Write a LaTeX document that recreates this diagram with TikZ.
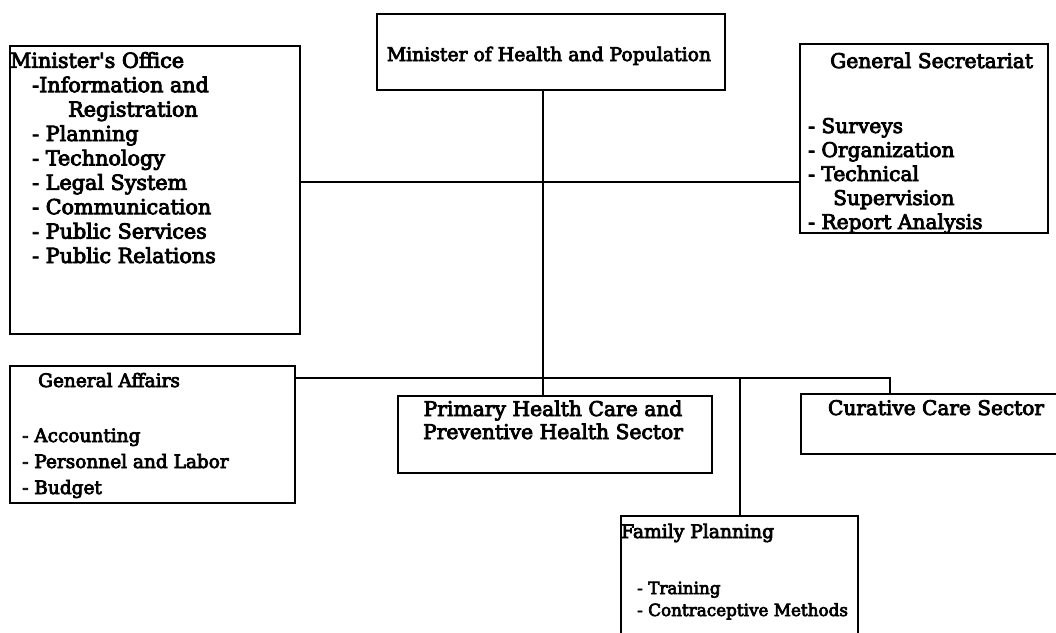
\documentclass[tikz,border=0pt]{standalone}
\usepackage{fontspec}
\newfontfamily\chartfont{DejaVu Serif}[FakeBold=4]
\newcommand{\chartsize}[2]{\chartfont\fontsize{#1}{#2}\selectfont}
\begin{document}
\begin{tikzpicture}[x=1pt,y=-1pt,
  box/.style={draw=black, line width=1.8pt, inner sep=0pt, anchor=north west},
  wire/.style={draw=black, line width=1.8pt},
  txt/.style={inner sep=0pt, align=left, anchor=base west},
  ctxt/.style={inner sep=0pt, align=center, anchor=base}]
\useasboundingbox[fill=white] (0,0) rectangle (1056,632);

% boxes
\node[box, minimum width=348pt, minimum height=76pt]  (minister) at (376,13) {};
\node[box, minimum width=290pt, minimum height=288pt] (office)   at (9,45) {};
\node[box, minimum width=248pt, minimum height=189pt] (secr)     at (799,43) {};
\node[box, minimum width=285pt, minimum height=137pt] (affairs)  at (9,365) {};
\node[box, minimum width=314pt, minimum height=77pt]  (primary)  at (397,395) {};
\node[box, minimum width=280pt, minimum height=60pt]  (curative) at (800,393) {};
\node[box, minimum width=237pt, minimum height=140pt] (family)   at (620,515) {};

% guide coordinates for the connectors
\coordinate (spine)   at (543,0);
\coordinate (row)     at (0,182);
\coordinate (bus)     at (0,378);
\coordinate (curdrop) at (890,0);
\coordinate (fpdrop)  at (740,0);

% connectors
\draw[wire] (minister.south -| spine) -- (primary.north -| spine);
\draw[wire] (office.east |- row) -- (secr.west |- row);
\draw[wire] (affairs.east |- bus) -- (curdrop |- bus) -- (curative.north -| curdrop);
\draw[wire] (fpdrop |- bus) -- (family.north -| fpdrop);

% texts (multi-line nodes are placed by the baseline of their last line)
\node[inner sep=0pt, anchor=base, font=\chartsize{18.8}{24}]
  (tminister) at (549,61) {Minister of Health and Population};

\node[txt, font=\chartsize{20.7}{24.4}] (toffice) at (10,263) {Minister's Office\\
\hspace{22pt}-Information and\\
\hspace{58pt}Registration\\
\hspace{22pt}- Planning\\
\hspace{22pt}- Technology\\
\hspace{22pt}- Legal System\\
\hspace{22pt}- Communication\\
\hspace{22pt}- Public Services\\
\hspace{22pt}- Public Relations};

\node[txt, font=\chartsize{20.2}{24}] (tsecr) at (830,68) {General Secretariat};
\begin{scope}
% the last item runs into the bottom edge of its box
\clip (799,43) rectangle (1047,232);
\node[txt, font=\chartsize{20.2}{24}] (tsecrlist) at (808,229) {- Surveys\\
- Organization\\
- Technical\\
\hspace{25pt}Supervision\\
- Report Analysis};
\end{scope}

\node[txt, font=\chartsize{18.5}{26}] (taffairs) at (38,387) {General Affairs};
\node[txt, font=\chartsize{18.5}{26}] (taffairslist) at (22,494) {- Accounting\\
- Personnel and Labor\\
- Budget};

\node[ctxt, font=\chartsize{20.3}{23}] (tprimary) at (553,439)
  {Primary Health Care and\\Preventive Health Sector};

\node[ctxt, font=\chartsize{20.1}{24}] (tcurative) at (936,415) {Curative Care Sector};

\node[txt, font=\chartsize{18.7}{22}] (tfamily) at (621,538) {Family Planning};
\node[txt, font=\chartsize{16.8}{22}] (tfamilylist) at (637,616) {- Training\\
- Contraceptive Methods};
\end{tikzpicture}
\end{document}
